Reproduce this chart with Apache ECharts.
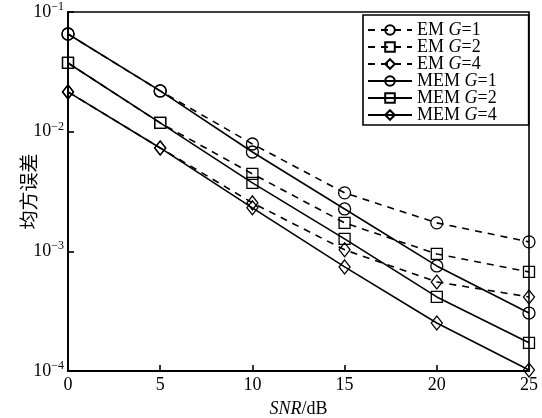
<!DOCTYPE html>
<html>
<head>
<meta charset="utf-8">
<script src="https://cdn.jsdelivr.net/npm/echarts@6/dist/echarts.min.js"></script>
<style>html,body{margin:0;padding:0;background:#fff}#c{width:542px;height:418px}</style>
</head>
<body>
<div id="c"></div>
<script>
const snr = [0, 5, 10, 15, 20, 25];
const emG1 = [0.0655, 0.0219, 0.00789, 0.00308, 0.00173, 0.00120];
const emG2 = [0.0375, 0.01183, 0.00444, 0.00173, 0.000951, 0.000673];
const emG4 = [0.0215, 0.00731, 0.00254, 0.00103, 0.000555, 0.000416];
const memG1 = [0.0655, 0.0219, 0.00676, 0.00226, 0.000755, 0.000305];
const memG2 = [0.0375, 0.01183, 0.00373, 0.00127, 0.000416, 0.000172];
const memG4 = [0.0215, 0.00731, 0.00231, 0.000741, 0.000252, 0.000102];
const seriesNames = ['EM G=1', 'EM G=2', 'EM G=4', 'MEM G=1', 'MEM G=2', 'MEM G=4'];
const yTicks = [1e-4, 1e-3, 1e-2, 1e-1];

const serif = 'Liberation Serif';
const dataSets = [emG1, emG2, emG4, memG1, memG2, memG4];
const symbols = ['circle', 'rect', 'diamond', 'circle', 'rect', 'diamond'];
const sizes = [12, 11, [11, 14], 12, 11, [11, 14]];

const series = dataSets.map((d, i) => ({
  name: seriesNames[i],
  type: 'line',
  data: snr.map((x, j) => [x, d[j]]),
  symbol: symbols[i],
  symbolSize: sizes[i],
  showAllSymbol: true,
  clip: false,
  lineStyle: { color: '#000', width: 1.6, type: i < 3 ? [7, 6] : 'solid' },
  itemStyle: { color: 'rgba(255,255,255,0)', borderColor: '#000', borderWidth: 1.3 },
  emphasis: { disabled: true },
  animation: false
}));

const chart = echarts.init(document.getElementById('c'));
chart.setOption({
  backgroundColor: '#fff',
  animation: false,
  grid: { left: 68, right: 13, top: 12, bottom: 47, outerBoundsMode: 'none', containLabel: false,
    show: true, borderColor: '#000', borderWidth: 1.6, backgroundColor: 'transparent' },
  legend: {
    orient: 'vertical',
    left: 363, top: 15,
    padding: [6, 32, 1, 4],
    itemGap: -1,
    itemWidth: 44, itemHeight: 12,
    borderColor: '#000', borderWidth: 1.6,
    backgroundColor: '#fff',
    data: seriesNames,
    formatter: function (n) { return n.replace('G=', '{i|G}='); },
    textStyle: { fontFamily: serif, fontSize: 18, lineHeight: 16, color: '#000',
      rich: { i: { fontFamily: serif, fontSize: 18, lineHeight: 16, fontStyle: 'italic', color: '#000' } } }
  },
  xAxis: {
    type: 'value', min: 0, max: 25, interval: 5,
    splitLine: { show: false },
    axisLine: { lineStyle: { color: '#000', width: 1.8 } },
    axisTick: { inside: true, length: 6, lineStyle: { color: '#000', width: 1.6 } },
    axisLabel: { color: '#000', fontFamily: serif, fontSize: 18, margin: 5 },
    name: '{i|SNR}/dB', nameLocation: 'middle', nameGap: 29, nameMoveOverlap: false,
    nameTextStyle: { color: '#000', fontFamily: serif, fontSize: 18,
      rich: { i: { fontFamily: serif, fontSize: 18, fontStyle: 'italic', color: '#000' } } }
  },
  yAxis: {
    type: 'log', logBase: 10, min: yTicks[0], max: yTicks[yTicks.length - 1],
    splitLine: { show: false },
    minorTick: { show: false },
    axisLine: { lineStyle: { color: '#000', width: 1.8 } },
    axisTick: { inside: true, length: 6, lineStyle: { color: '#000', width: 1.6 } },
    axisLabel: {
      color: '#000', fontFamily: serif, fontSize: 18, margin: 4,
      formatter: function (v) {
        const e = Math.round(Math.log10(v));
        return '{b|10}{s|' + (e < 0 ? '\u2212' : '') + Math.abs(e) + '}';
      },
      rich: {
        b: { fontFamily: serif, fontSize: 18, color: '#000' },
        s: { fontFamily: serif, fontSize: 12, color: '#000', verticalAlign: 'top', padding: [0, 0, 10, 0] }
      }
    },
    name: '均方误差', nameLocation: 'middle', nameGap: 30, nameMoveOverlap: false,
    nameTextStyle: { color: '#000', fontFamily: 'Noto Sans CJK SC', fontSize: 19 }
  },
  series: series
});
</script>
</body>
</html>
